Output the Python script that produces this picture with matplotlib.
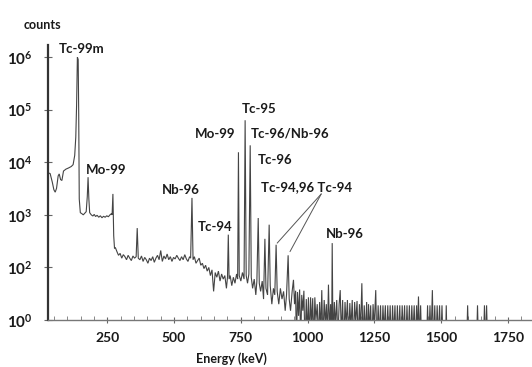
"""
Gamma spectrum of an irradiated Mo target: counts vs energy, log scale,
with the main Tc / Mo / Nb lines labelled.
"""
import matplotlib
matplotlib.use("Agg")
import matplotlib.pyplot as plt
import matplotlib.ticker as mticker
import numpy as np

# ---- spectrum (keV, counts) ----
# low energy part incl. Tc-99m 140 keV and Mo-99 181 keV
energy_low = [28, 36, 44, 50, 55, 60, 66, 70, 75, 80,
              86, 95, 105, 115, 122, 128, 132, 135, 138, 141,
              143, 145, 149, 155, 160, 166, 171, 175, 178, 181,
              184, 190, 196, 201, 206, 212, 218, 224, 230, 236,
              242, 248, 254, 260, 265, 268, 271, 274, 277]
counts_low = [6300, 6100, 4200, 3000, 2700, 3200, 5500, 6000, 4700, 4500,
              6800, 7400, 7800, 8300, 9000, 13500, 30000, 120000, 1000000, 900000,
              80000, 2000, 1100, 1050, 1000, 1080, 1150, 2200, 5200, 2000,
              1100, 1000, 950, 1020, 930, 980, 900, 960, 880, 940,
              900, 960, 920, 1000, 1050, 1000, 2500, 400, 230]

# flat continuum 280-700 keV
energy_mid = [280, 286, 292, 298, 304, 310, 316, 322, 328, 334,
              340, 346, 352, 358, 362, 366, 372, 378, 384, 390,
              396, 402, 408, 414, 420, 426, 432, 438, 444, 450,
              456, 462, 468, 474, 480, 486, 492, 498, 504, 510,
              516, 522, 528, 534, 540, 546, 552, 558, 562, 567,
              571, 576, 582, 588, 594, 600, 606, 612, 618, 624,
              630, 636, 642, 648, 654, 660, 666, 672, 678, 684,
              690, 696, 700]
counts_mid = [240, 200, 170, 185, 150, 175, 160, 140, 170, 150,
              135, 165, 150, 160, 560, 150, 140, 165, 130, 155,
              140, 120, 150, 135, 160, 125, 150, 170, 140, 210,
              130, 165, 145, 180, 140, 160, 130, 155, 145, 170,
              150, 135, 160, 140, 175, 145, 130, 160, 150, 2100,
              140, 160, 120, 135, 150, 110, 120, 95, 110, 85,
              100, 70, 90, 35, 80, 65, 85, 55, 75, 60,
              70, 40, 65]

# Tc-94/95/96 region 700-950 keV
energy_tc = [703, 706, 710, 716, 722, 728, 734, 738, 741, 744,
             750, 756, 762, 766, 770, 775, 780, 785, 789, 794,
             800, 806, 810, 815, 819, 824, 830, 835, 840, 844,
             850, 856, 860, 866, 872, 877, 882, 886, 892, 898,
             904, 910, 916, 921, 927, 931, 936, 942, 947, 951]
counts_tc = [420, 60, 70, 45, 65, 50, 75, 60, 15500, 70,
             55, 80, 60, 63000, 70, 50, 75, 21000, 65, 40,
             60, 30, 55, 870, 50, 35, 55, 25, 350, 40,
             30, 650, 45, 20, 40, 30, 270, 35, 20, 40,
             25, 35, 15, 30, 170, 25, 15, 35, 58, 20]

# high energy tail, mostly near zero counts
energy_high = [955, 958, 962, 966, 970, 974, 978, 982, 986, 990,
               995, 999, 1003, 1007, 1011, 1015, 1019, 1023, 1027, 1031,
               1036, 1040, 1045, 1049, 1053, 1057, 1062, 1066, 1070, 1074,
               1078, 1082, 1086, 1090, 1092, 1095, 1100, 1104, 1109, 1113,
               1118, 1122, 1126, 1131, 1135, 1140, 1144, 1149, 1153, 1158,
               1162, 1167, 1171, 1176, 1180, 1185, 1189, 1194, 1198, 1203,
               1207, 1212, 1216, 1221, 1224, 1228, 1232, 1236, 1240, 1245,
               1249, 1255, 1259, 1264, 1268, 1273, 1277, 1282, 1286, 1291,
               1295, 1300, 1304, 1309, 1313, 1318, 1322, 1327, 1331, 1336,
               1340, 1345, 1349, 1354, 1358, 1363, 1367, 1372, 1376, 1381,
               1385, 1390, 1394, 1399, 1403, 1408, 1411, 1415, 1419, 1423,
               1427, 1445, 1449, 1453, 1458, 1462, 1467, 1471, 1476, 1480,
               1485, 1489, 1494, 1498, 1503, 1507, 1516, 1519, 1522, 1595,
               1599, 1603, 1632, 1636, 1640, 1658, 1662, 1666, 1670, 1674,
               1840]
counts_high = [36, 3, 34, 12, 38, 4, 30, 15, 36, 3,
               25, 5, 27, 4, 27, 8, 26, 3, 27, 10,
               20, 4, 22, 6, 37, 4, 24, 8, 20, 5,
               47, 6, 20, 5, 290, 4, 22, 8, 24, 4,
               20, 37, 5, 24, 3, 22, 8, 24, 4, 21,
               7, 24, 3, 22, 9, 23, 4, 20, 6, 50,
               4, 19, 5, 22, 3, 20, 6, 19, 3, 20,
               7, 37, 3, 19, 5, 19, 3, 19, 6, 19,
               3, 19, 4, 19, 3, 19, 5, 19, 3, 19,
               4, 19, 3, 19, 5, 19, 3, 19, 4, 19,
               3, 19, 5, 19, 3, 19, 5, 28, 4, 19,
               3, 3, 19, 3, 19, 4, 37, 3, 19, 3,
               19, 4, 19, 3, 19, 3, 3, 19, 3, 3,
               19, 3, 3, 19, 3, 3, 19, 3, 19, 3,
               3]

energy_kev = energy_low + energy_mid + energy_tc + energy_high
counts = counts_low + counts_mid + counts_tc + counts_high

# y axis: the picture labels its bottom decade "10^0"
ytick_values = [1e1, 1e2, 1e3, 1e4, 1e5, 1e6]
ytick_labels = [r"$\mathbf{10^{0}}$", r"$\mathbf{10^{2}}$", r"$\mathbf{10^{3}}$",
                r"$\mathbf{10^{4}}$", r"$\mathbf{10^{5}}$", r"$\mathbf{10^{6}}$"]
xtick_values = [250, 500, 750, 1000, 1250, 1500, 1750]

# peak labels: text, anchor energy, anchor counts, horizontal alignment
label_text = ["Tc-99m", "Mo-99", "Nb-96", "Tc-94", "Mo-99", "Tc-95",
              "Tc-96/Nb-96", "Tc-96", "Tc-94,96 Tc-94", "Nb-96"]
label_kev = [69, 170, 526, 653, 653, 818, 788, 815, 826, 1139]
label_counts = [1.45e6, 7100, 2950, 590, 35000, 102000, 36000, 11000, 3400, 430]
label_ha = ["left", "left", "center", "center", "center", "center",
            "left", "left", "left", "center"]

# leader lines from the "Tc-94,96 Tc-94" label down to their peaks
leader_from = (1051, 2500)
leader_to = [(886, 290), (934, 200)]

plt.rcParams["font.family"] = ["Lato", "DejaVu Sans"]
plt.rcParams["font.weight"] = "bold"
plt.rcParams["mathtext.fontset"] = "custom"
plt.rcParams["mathtext.bf"] = "Lato:bold"
plt.rcParams["mathtext.rm"] = "Lato:bold"

fig = plt.figure(figsize=(5.32, 3.67), dpi=100)
ax = fig.add_axes([48 / 532, 47 / 367, 484 / 532, 275 / 367])

ax.plot(energy_kev, counts, color="#444444", lw=0.8, solid_joinstyle="miter")

ax.set_yscale("log")
ax.set_xlim(28, 1840)
ax.set_ylim(10, 1.7e6)

ax.set_yticks(ytick_values)
ax.set_yticklabels(ytick_labels)
ax.yaxis.set_minor_locator(mticker.NullLocator())
ax.set_xticks(xtick_values)
ax.xaxis.set_minor_locator(mticker.MultipleLocator(50))

ax.tick_params(axis="x", which="major", direction="inout", length=5, width=0.8,
               labelsize=10, pad=6, colors="#666666", labelcolor="#1a1a1a")
ax.tick_params(axis="x", which="minor", direction="in", length=3, width=0.7,
               colors="#888888")
ax.tick_params(axis="y", which="major", direction="inout", length=6, width=0.8,
               labelsize=11, pad=8, colors="#666666", labelcolor="#1a1a1a")

for side in ("top", "right"):
    ax.spines[side].set_visible(False)
ax.spines["left"].set_linewidth(1.6)
ax.spines["left"].set_color("#333333")
ax.spines["bottom"].set_linewidth(1.0)
ax.spines["bottom"].set_color("#777777")

for txt, kev, cnt, ha in zip(label_text, label_kev, label_counts, label_ha):
    ax.text(kev, cnt, txt, ha=ha, va="center", fontsize=9.5,
            fontweight="bold", color="#1a1a1a")

for end in leader_to:
    ax.annotate("", xy=end, xytext=leader_from,
                arrowprops=dict(arrowstyle="-", color="#555555", lw=0.7,
                                shrinkA=0, shrinkB=0))

fig.text(24 / 532, 1 - 25 / 367, "counts", ha="left", va="center",
         fontsize=9, fontweight="bold", color="#1a1a1a")
fig.text(231 / 532, 1 - 359 / 367, "Energy (keV)", ha="center", va="center",
         fontsize=9, fontweight="bold", color="#1a1a1a")

fig.savefig("out.png", dpi=100, facecolor="white")
